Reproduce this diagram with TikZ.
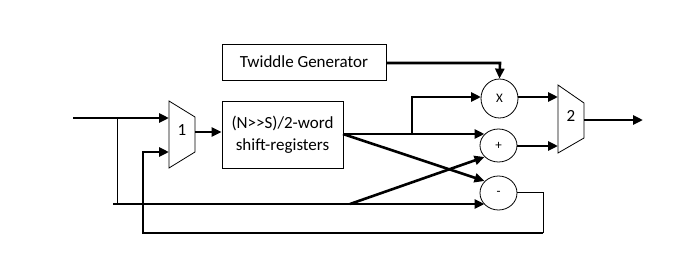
\documentclass[tikz,border=0pt]{standalone}
\usepackage{fontspec}
\setmainfont{Carlito}
\usetikzlibrary{arrows.meta,calc,shapes.geometric}
\begin{document}
\begin{tikzpicture}[x=1pt,y=-1pt,
  thin line/.style={line width=1pt},
  thick line/.style={line width=2.6pt},
  arr/.style={thick line,-{Triangle[length=10pt,width=9pt]}},
  blockbox/.style={draw,line width=0.8pt,inner sep=0pt,align=center,font=\fontsize{17}{22}\selectfont},
  opcircle/.style={draw,ellipse,line width=0.8pt,inner sep=0pt,font=\fontsize{13}{14}\selectfont},
  muxshape/.style={draw,line width=0.8pt},
  lbl/.style={font=\fontsize{17}{18}\selectfont}]
\useasboundingbox (0,0) rectangle (681,268);
\fill[white] (0,0) rectangle (681,268);

% blocks
\node[blockbox,minimum width=164pt,minimum height=36pt] (tw) at (304,62) {Twiddle Generator};
\node[blockbox,minimum width=121pt,minimum height=67pt] (sr) at (282.5,134.5) {(N{>}{>}S)/2-word\\shift-registers};

% muxes
\draw[muxshape] (169,101) -- (195,117) -- (195,152) -- (169,168) -- cycle;
\node[lbl] (m1) at (182,130) {1};
\draw[muxshape] (558,85) -- (584,103) -- (584,138) -- (558,153) -- cycle;
\node[lbl] (m2) at (571,116) {2};
\coordinate (m1a) at (169,118);
\coordinate (m1b) at (169,152);
\coordinate (m1o) at (195,132);
\coordinate (m2a) at (558,97);
\coordinate (m2b) at (558,146);
\coordinate (m2o) at (584,120);

% operator circles
\node[opcircle,minimum width=37pt,minimum height=39pt] (mul) at (499.5,98.5) {X};
\node[opcircle,minimum width=37pt,minimum height=33pt] (add) at (498.5,145.5) {+};
\node[opcircle,minimum width=37pt,minimum height=34pt] (sub) at (498.5,193) {-};

% named free ends
\coordinate (in) at (73,118);
\coordinate (out) at (643,120);
\coordinate (br1) at (117,118);
\coordinate (low) at (113,204);
\coordinate (dstart) at (350,204);
\coordinate (sro) at (343,134);
\coordinate (br2) at (412,134);

% input
\draw[arr] (in) -- (m1a);
\draw[thin line] (br1) -- (117,204);
\draw[arr] (low) -- ($(sub.center)+(-14,11)$);
\draw[arr] (dstart) -- ($(add.center)+(-14,11.5)$);

% mux1 to shift register
\draw[arr] (m1o) -- (m1o -| sr.west);

% shift register outputs
\draw[arr] (sro) -- ($(add.center)+(-14,-11.5)$);
\draw[arr] (br2) -- (412,97) -- ($(mul.center)+(-18.5,-1.5)$);
\draw[arr] (sro) -- ($(sub.center)+(-14,-12)$);

% twiddle
\draw[arr] (tw.east |- 0,63) -- (500,63) -- (mul.north);

% to mux2
\draw[arr] ($(mul.center)+(18.5,-1.5)$) -- (m2a);
\draw[arr] ($(add.center)+(18.5,0.5)$) -- (m2b);
\draw[arr] (m2o) -- (out);

% feedback
\draw[thin line] ($(sub.center)+(18.5,-1)$) -- (543,192) -- (543,233);
\draw[thick line] (543,233) -- (143,233);
\draw[arr] (143,233.5) -- (143,152) -- (m1b);
\end{tikzpicture}
\end{document}
